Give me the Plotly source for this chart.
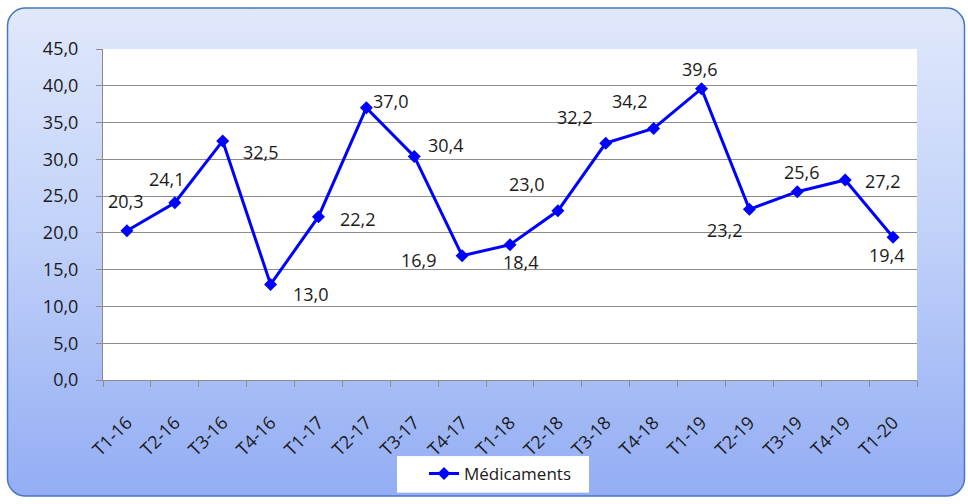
import base64
import plotly.graph_objects as go

categories = ["T1-16", "T2-16", "T3-16", "T4-16", "T1-17", "T2-17", "T3-17", "T4-17",
              "T1-18", "T2-18", "T3-18", "T4-18", "T1-19", "T2-19", "T3-19", "T4-19", "T1-20"]
values = [20.3, 24.1, 32.5, 13.0, 22.2, 37.0, 30.4, 16.9, 18.4, 23.0, 32.2, 34.2, 39.6,
          23.2, 25.6, 27.2, 19.4]
series_name = "Médicaments"
y_ticks = [0, 5, 10, 15, 20, 25, 30, 35, 40, 45]

# label offsets in pixels (dx right, dy down)
label_offsets = [(-1, -30), (-8, -24), (38, 11), (40, 10), (40, 2), (25, -7), (32, -11),
                 (-43, 4), (11, 17), (-31, -27), (-31, -26), (-24, -27), (-2, -20),
                 (-24, 21), (5, -20), (38, 1), (-6, 18)]

W, H = 968, 504
ml, mr, mt, mb = 103, 51, 49, 120
pw, ph = W - ml - mr, H - mt - mb

FONT = "Open Sans"
TXT = "#1a1a1a"
FS = 18

svg = f'''<svg xmlns="http://www.w3.org/2000/svg" width="{W}" height="{H}" viewBox="0 0 {W} {H}">
<defs><linearGradient id="g" x1="0" y1="0" x2="0" y2="1">
<stop offset="0" stop-color="#e0e8fb"/><stop offset="0.45" stop-color="#c2d2f9"/><stop offset="1" stop-color="#93adf4"/>
</linearGradient></defs>
<rect x="7.5" y="7.5" width="957" height="494" rx="18" ry="18" fill="url(#g)" stroke="#4a74c4" stroke-width="1.5"/>
<rect x="397" y="461" width="192" height="37" fill="#ffffff"/>
</svg>'''
src = "data:image/svg+xml;base64," + base64.b64encode(svg.encode()).decode()

fig = go.Figure()
fig.add_trace(go.Scatter(
    x=categories, y=values, mode="lines+markers", name=series_name,
    line=dict(color="#0000ff", width=3),
    marker=dict(symbol="diamond", size=10, color="#0000ff"),
    showlegend=True,
))

annotations = []
for c, v, (dx, dy) in zip(categories, values, label_offsets):
    annotations.append(dict(
        x=c, y=v, xref="x", yref="y", text=f"{v:.1f}".replace(".", ","),
        showarrow=False, xshift=dx, yshift=-dy,
        font=dict(family=FONT, size=FS, color=TXT),
    ))

fig.update_layout(
    width=W, height=H,
    margin=dict(l=ml, r=mr, t=mt, b=mb),
    paper_bgcolor="white",
    plot_bgcolor="white",
    separators=", ",
    font=dict(family=FONT, size=FS, color=TXT),
    annotations=annotations,
    images=[dict(source=src, xref="paper", yref="paper",
                 x=-ml / pw, y=1 + mt / ph, sizex=W / pw, sizey=H / ph,
                 xanchor="left", yanchor="top", sizing="stretch", layer="below")],
    shapes=[dict(type="rect", xref="x domain", yref="y domain", x0=0, x1=1, y0=0, y1=1,
                 fillcolor="white", line=dict(width=0), layer="below")],
    legend=dict(
        x=(424 - ml) / pw, y=(mt + ph - 479) / ph, xanchor="left", yanchor="middle",
        bgcolor="rgba(0,0,0,0)", borderwidth=0, font=dict(family=FONT, size=17, color=TXT),
        orientation="h",
    ),
    xaxis=dict(
        type="category", tickangle=-45, tickson="boundaries",
        ticks="outside", ticklen=6, tickcolor="#8c8c8c",
        showline=True, linecolor="#8c8c8c", linewidth=1,
        showgrid=False, range=[-0.5, len(categories) - 0.5],
        tickfont=dict(family=FONT, size=FS, color=TXT),
        ticklabelstandoff=24,
    ),
    yaxis=dict(
        range=[0, 45], tickvals=y_ticks, tickformat=".1f",
        ticks="outside", ticklen=6, tickcolor="#8c8c8c",
        showline=True, linecolor="#8c8c8c", linewidth=1,
        showgrid=True, gridcolor="#8c8c8c", gridwidth=1,
        zeroline=False,
        tickfont=dict(family=FONT, size=FS, color=TXT),
        ticklabelstandoff=14,
    ),
)

fig.write_html("out.html", config={"displayModeBar": False},
               post_script="document.body.style.margin='0';")
